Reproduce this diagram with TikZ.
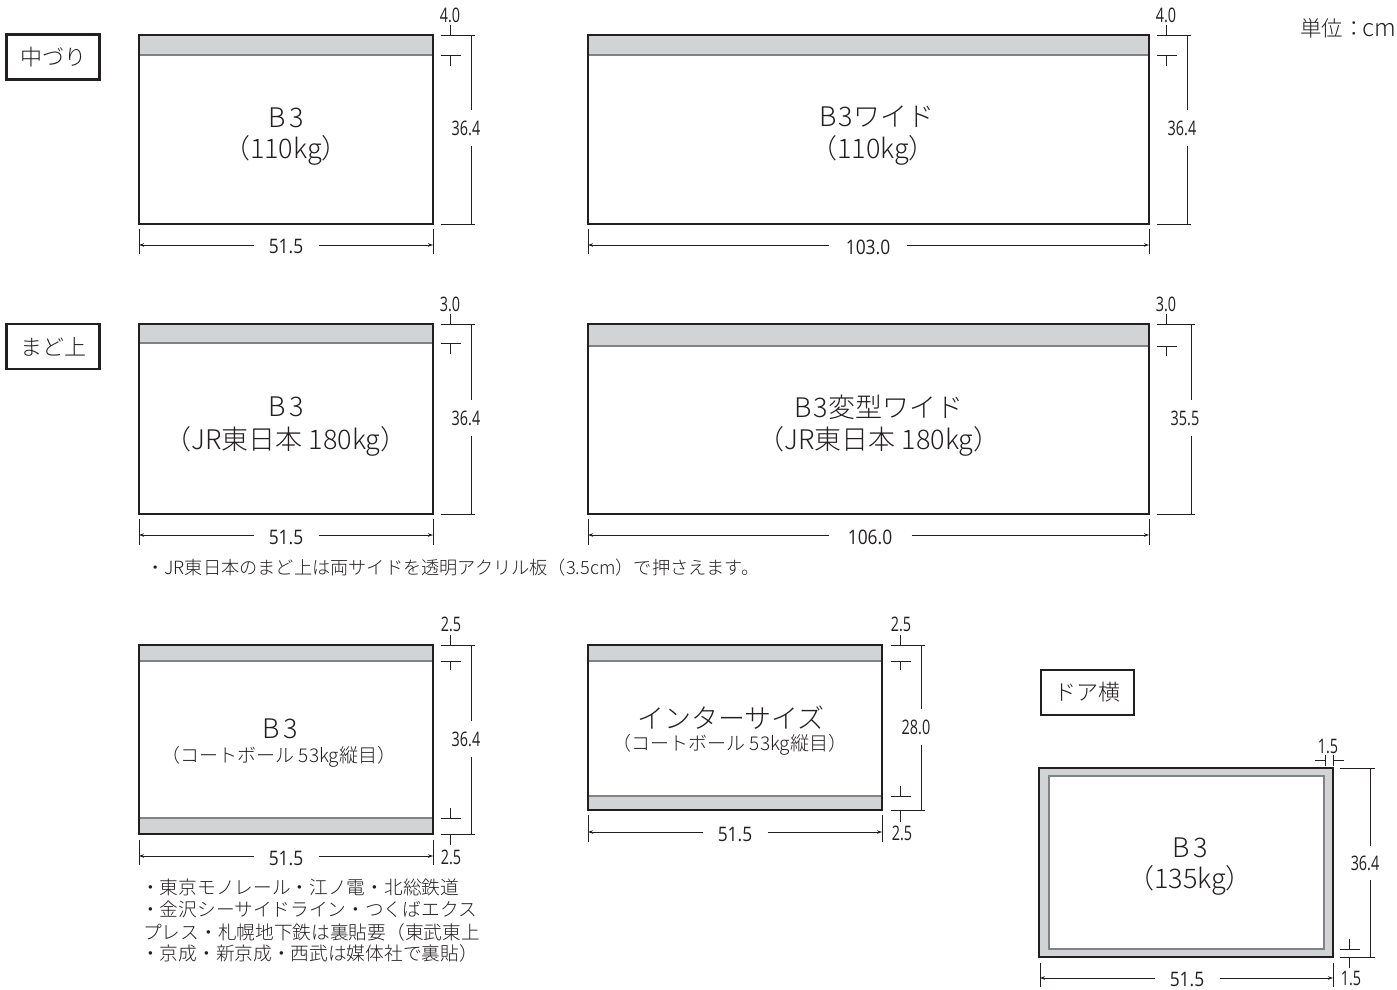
\documentclass[tikz,border=0pt]{standalone}
\usepackage{fontspec}
\usetikzlibrary{arrows.meta,calc}
\setmainfont{Noto Sans CJK JP}
\newfontfamily\lightf{Noto Sans CJK JP Light}
\newfontfamily\condf[FakeStretch=0.72]{Open Sans}
\newfontfamily\condh[FakeStretch=0.87]{Open Sans}
\definecolor{ink}{HTML}{231F20}
\definecolor{bandfill}{HTML}{D1D3D4}
\definecolor{bandline}{HTML}{808285}
\tikzset{
  dimline/.style={draw=ink,line width=0.9pt},
  rightarrow/.style={dimline,-{Stealth[length=5pt,width=3.5pt]}},
  dimtext/.style={inner sep=0pt,outer sep=0pt,text=ink,font=\fontsize{20}{20}\selectfont\condf},
  hdimtext/.style={inner sep=0pt,outer sep=0pt,text=ink,font=\fontsize{20}{20}\selectfont\condh},
  frame/.style={draw=ink,line width=2.8pt,inner sep=0pt,outer sep=0pt},
  band/.style={fill=bandfill,draw=bandline,line width=1.3pt},
  tagbox/.style={draw=ink,line width=2.4pt,fill=white,inner sep=0pt,outer sep=0pt,minimum width=93pt,minimum height=45pt,text=ink,font=\fontsize{22}{22}\selectfont\lightf},
  bigtext/.style={inner sep=0pt,text=ink,font=\fontsize{27}{27}\selectfont\lightf},
  subtext/.style={inner sep=0pt,text=ink,font=\fontsize{19}{19}\selectfont\lightf},
  note/.style={inner sep=0pt,anchor=base west,text=ink,font=\fontsize{18.7}{18.7}\selectfont\lightf},
}
% name, x0, y0, x1, y1
\newcommand\panelbox[5]{\node[frame,minimum width={(#4-#2)*1pt},minimum height={(#5-#3)*1pt}] (#1) at ({(#2+#4)/2},{(#3+#5)/2}) {};}
% name, x0, x1, y, tick y0, tick y1
\newcommand\hdim[6]{%
  \coordinate (#1-a) at (#2,#4); \coordinate (#1-b) at (#3,#4);
  \coordinate (#1-at) at (#2,#5); \coordinate (#1-ab) at (#2,#6);
  \coordinate (#1-bt) at (#3,#5); \coordinate (#1-bb) at (#3,#6);
  \draw[dimline] (#1-at) -- (#1-ab);
  \draw[dimline] (#1-bt) -- (#1-bb);}
% name, label x, label y, gap, text
\newcommand\hlab[5]{%
  \node[hdimtext,minimum width=#4pt] (#1-l) at (#2,#3) {#5};
  \draw[rightarrow] (#1-l.west |- #1-a) -- (#1-a);
  \draw[rightarrow] (#1-l.east |- #1-b) -- (#1-b);}
% name, x, y0, y1, ext x0, ext x1
\newcommand\vdim[6]{%
  \coordinate (#1-a) at (#2,#3); \coordinate (#1-b) at (#2,#4);
  \coordinate (#1-a0) at (#5,#3); \coordinate (#1-a1) at (#6,#3);
  \coordinate (#1-b0) at (#5,#4); \coordinate (#1-b1) at (#6,#4);
  \draw[dimline] (#1-a0) -- (#1-a1);
  \draw[dimline] (#1-b0) -- (#1-b1);}
% name, label x, label y, gap, text
\newcommand\vlab[5]{%
  \node[dimtext,minimum height=#4pt] (#1-l) at (#2,#3) {#5};
  \draw[dimline] (#1-a) -- (#1-a |- #1-l.north);
  \draw[dimline] (#1-b) -- (#1-b |- #1-l.south);}
% name, x, y line, tick end, x0, x1 : a small T mark
\newcommand\tmark[6]{%
  \coordinate (#1-p) at (#2,#3); \coordinate (#1-q) at (#2,#4);
  \coordinate (#1-r) at (#5,#3); \coordinate (#1-s) at (#6,#3);
  \draw[dimline] (#1-p) -- (#1-q);
  \draw[dimline] (#1-r) -- (#1-s);}
% name, x, y0, y1 : a plain tick
\newcommand\ptick[4]{\coordinate (#1-p) at (#2,#3); \coordinate (#1-q) at (#2,#4); \draw[dimline] (#1-p) -- (#1-q);}
% name, y, x0, x1 : a plain horizontal tick
\newcommand\qtick[4]{\coordinate (#1-p) at (#3,#2); \coordinate (#1-q) at (#4,#2); \draw[dimline] (#1-p) -- (#1-q);}
\begin{document}
\begin{tikzpicture}[x=1pt,y=-1pt]
\useasboundingbox (0,0) rectangle (1397,990);
% tags
\node[tagbox] (t1) at (53,57) {中づり};
\node[tagbox] (t2) at (53,346.5) {まど上};
\node[tagbox] (t3) at (1087.5,692.5) {ドア横};
\node[inner sep=0pt,anchor=west,text=ink,font=\fontsize{21.5}{21.5}\selectfont\lightf] (unit) at (1300,28) {単位：\kern-2pt\fontsize{24}{24}\selectfont cm};
% bands
\path[band] (139,35) rectangle (433,55);
\path[band] (588,35) rectangle (1149,55);
\path[band] (139,324) rectangle (433,343);
\path[band] (588,324) rectangle (1149,346);
\path[band] (139,645) rectangle (433,661);
\path[band] (139,818) rectangle (433,834);
\path[band] (588,645) rectangle (882,661);
\path[band] (588,796) rectangle (882,810);
\path[band] (1039,768) rectangle (1333,957);
\draw[draw=bandline,line width=1.3pt,fill=white] (1049,776) rectangle (1324,949);
% panels
\panelbox{pa}{139}{35}{433}{224}
\panelbox{pb}{588}{35}{1149}{224}
\panelbox{pc}{139}{324}{433}{514}
\panelbox{pd}{588}{324}{1149}{514}
\panelbox{pe}{139}{645}{433}{834}
\panelbox{pf}{588}{645}{882}{810}
\panelbox{pg}{1039}{768}{1333}{957}
% panel texts
\node[bigtext] (a1) at (286,118) {B\kern4pt 3};
\node[bigtext] (a2) at (286,150) {（110kg）};
\node[bigtext] (b1) at (877,117) {B\kern2pt 3ワイド};
\node[bigtext] (b2) at (873,150) {（110kg）};
\node[bigtext] (c1) at (286,407) {B\kern4pt 3};
\node[bigtext] (c2) at (286,441) {（JR東日本 180kg）};
\node[bigtext] (d1) at (879,407) {B\kern2pt 3変型ワイド};
\node[bigtext] (d2) at (879,441) {（JR東日本 180kg）};
\node[bigtext] (e1) at (280,729) {B\kern4pt 3};
\node[subtext] (e2) at (279,757) {（コートボール 53kg縦目）};
\node[bigtext] (f1) at (731,718) {インターサイズ};
\node[subtext] (f2) at (730,745) {（コートボール 53kg縦目）};
\node[bigtext] (g1) at (1190,848) {B\kern4pt 3};
\node[bigtext] (g2) at (1190,880) {（135kg）};
% row 1 dims
\node[dimtext] (n1) at (450,15) {4.0};
\ptick{k1}{450}{25}{35}
\tmark{m1}{450}{55}{66}{441}{461}
\vdim{v1}{471}{35}{224}{441}{475}
\vlab{v1}{466}{128}{36}{36.4}
\hdim{h1}{139}{433}{245}{229}{254}
\hlab{h1}{286}{247}{65}{51.5}
\node[dimtext] (n2) at (1166,15) {4.0};
\ptick{k2}{1166}{25}{35}
\tmark{m2}{1166}{55}{66}{1157}{1177}
\vdim{v2}{1187}{35}{224}{1157}{1191}
\vlab{v2}{1182}{128}{36}{36.4}
\hdim{h2}{588}{1149}{245}{229}{254}
\hlab{h2}{868}{247}{78}{103.0}
% row 2 dims
\node[dimtext] (n3) at (450,304) {3.0};
\ptick{k3}{450}{314}{324}
\tmark{m3}{450}{343}{354}{441}{461}
\vdim{v3}{471}{324}{514}{441}{475}
\vlab{v3}{466}{418}{36}{36.4}
\hdim{h3}{139}{433}{535}{519}{545}
\hlab{h3}{286}{537}{65}{51.5}
\node[dimtext] (n4) at (1166,304) {3.0};
\ptick{k4}{1166}{314}{324}
\tmark{m4}{1166}{346}{356}{1157}{1177}
\vdim{v4}{1191}{324}{514}{1157}{1195}
\vlab{v4}{1185}{418}{36}{35.5}
\hdim{h4}{588}{1149}{535}{519}{545}
\hlab{h4}{870}{537}{83}{106.0}
% row 3 dims
\node[dimtext] (n5) at (451,624) {2.5};
\ptick{k5}{450}{635}{645}
\tmark{m5}{450}{661}{670}{441}{461}
\tmark{o5}{450}{818}{808}{441}{461}
\vdim{v5}{471}{645}{834}{441}{475}
\vlab{v5}{466}{739}{36}{36.4}
\ptick{q5}{450}{834}{845}
\node[dimtext] (r5) at (451,857) {2.5};
\hdim{h5}{139}{433}{856}{840}{865}
\hlab{h5}{286}{858}{65}{51.5}
\node[dimtext] (n6) at (901,624) {2.5};
\ptick{k6}{900}{635}{645}
\tmark{m6}{900}{661}{670}{891}{911}
\tmark{o6}{900}{796}{786}{891}{911}
\vdim{v6}{921}{645}{810}{891}{925}
\vlab{v6}{916}{727}{36}{28.0}
\ptick{q6}{900}{810}{822}
\node[dimtext] (r6) at (902,833) {2.5};
\hdim{h6}{588}{882}{832}{815}{842}
\hlab{h6}{735}{834}{65}{51.5}
% door dims
\node[dimtext] (n7) at (1328,746) {1.5};
\ptick{k7}{1325.5}{755}{766}
\ptick{k8}{1333}{755}{766}
\qtick{l7}{760}{1315}{1325.5}
\qtick{l8}{760}{1333}{1344}
\tmark{o7}{1349}{949}{939}{1340}{1360}
\vdim{v7}{1370}{768}{957}{1340}{1375}
\vlab{v7}{1365}{863}{34}{36.4}
\ptick{q7}{1349}{957}{968}
\node[dimtext] (r7) at (1351,978) {1.5};
\hdim{h7}{1040}{1333}{978}{963}{987}
\hlab{h7}{1187}{979}{65}{51.5}
% notes
\node[note,font=\fontsize{18.2}{18.2}\selectfont\lightf] (j1) at (146,574) {・JR東日本のまど上は両サイドを透明アクリル板（3.5cm）で押さえます。};
\node[note] (j2) at (141,894) {・東京モノレール・江ノ電・北総鉄道};
\node[note] (j3) at (141,916) {・金沢シーサイドライン・つくばエクス};
\node[note] (j4) at (143,939) {プレス・札幌地下鉄は裏貼要（東武東上};
\node[note] (j5) at (141,960) {・京成・新京成・西武は媒体社で裏貼）};
\end{tikzpicture}
\end{document}
